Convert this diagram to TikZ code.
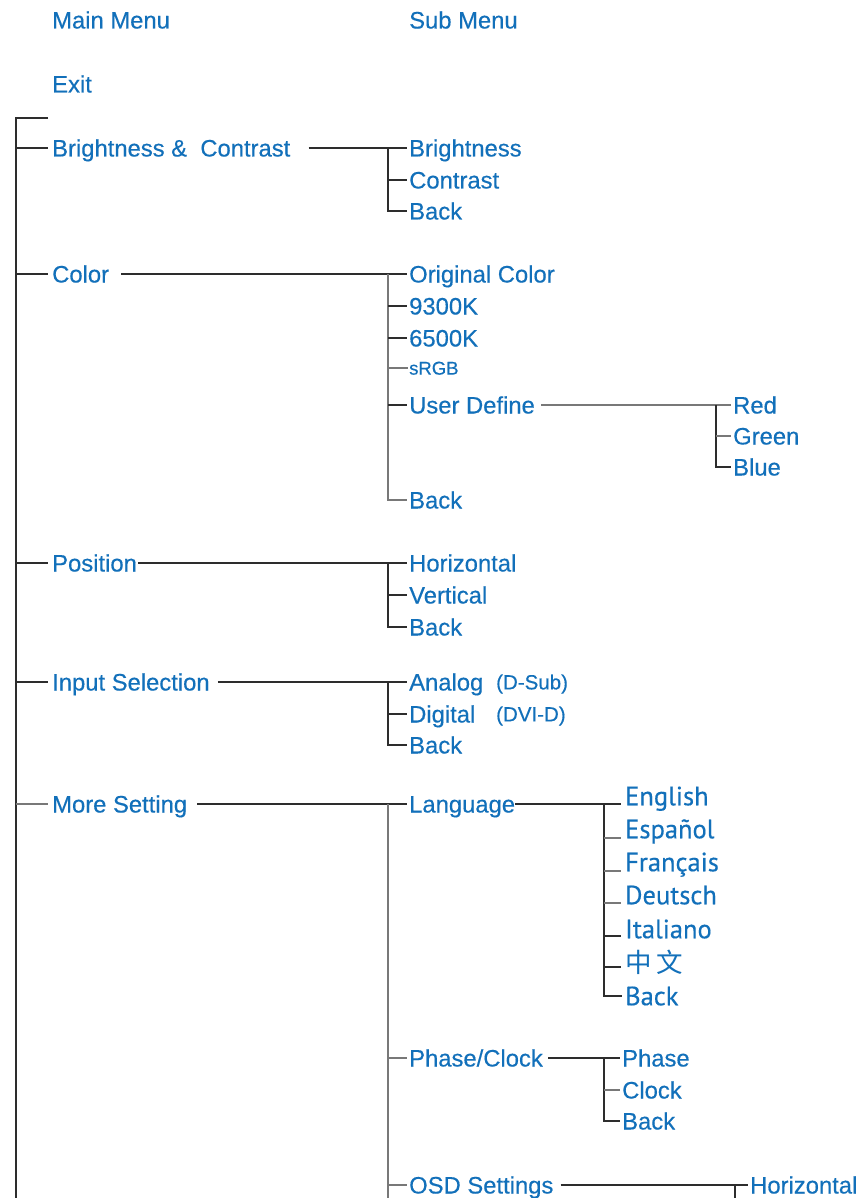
\documentclass[tikz,border=0pt]{standalone}
\usepackage{fontspec}
\setmainfont{Liberation Sans}
\newfontfamily\mfont{Liberation Sans}[FakeBold=0.35]
\newfontfamily\langfont{PT Sans}[FakeBold=0.35]
\newfontfamily\cjkfont{Noto Sans CJK SC}
\definecolor{txtblue}{RGB}{18,112,186}
\definecolor{lndark}{RGB}{45,45,45}
\definecolor{lngray}{RGB}{120,120,120}
\begin{document}
\begin{tikzpicture}[x=1pt,y=-1pt,
  lbl/.style={anchor=west, inner sep=0pt, text=txtblue, text height=17pt, text depth=0pt,
              font=\mfont\fontsize{23.8}{26}\selectfont},
  small/.style={lbl, text height=14.7pt, font=\mfont\fontsize{20.5}{22}\selectfont},
  tiny/.style={lbl, text height=13.2pt, font=\mfont\fontsize{18.5}{20}\selectfont},
  lang/.style={lbl, text height=18.5pt, font=\langfont\fontsize{26.5}{28}\selectfont},
  ln/.style={line width=1.9pt, draw=lndark},
  lg/.style={line width=1.9pt, draw=lngray}]
\useasboundingbox (0,0) rectangle (860,1198);
\fill[white] (0,0) rectangle (860,1198);

% headers
\node[lbl] (mainmenu) at (52,20) {Main Menu};
\node[lbl] (submenu) at (409,20) {Sub Menu};
\node[lbl] (exit) at (52,84) {Exit};

% main spine
\coordinate (spinetop) at (16,118);
\coordinate (spinebot) at (16,1199);
\coordinate (topstub) at (48,118);
\draw[ln] (topstub) -- (spinetop) -- (spinebot);

% Brightness & Contrast
\node[lbl] (bc) at (52,148) {Brightness \&\ \ Contrast};
\node[lbl] (bcb) at (409,148) {Brightness};
\node[lbl] (bcc) at (409,180) {Contrast};
\node[lbl] (bck) at (409,211) {Back};
\coordinate (bcj) at (388,148);
\draw[ln] (spinetop |- bc.west) -- ([xshift=-4pt]bc.west);
\draw[ln] ([xshift=18pt]bc.east) -- ([xshift=-2pt]bcb.west);
\draw[ln] (bcj) -- (bcj |- bck.west) -- ([xshift=-2pt]bck.west);
\draw[ln] (bcj |- bcc.west) -- ([xshift=-2pt]bcc.west);

% Color
\node[lbl] (col) at (52,274) {Color};
\node[lbl] (colo) at (409,274) {Original Color};
\node[lbl] (col93) at (409,306) {9300K};
\node[lbl] (col65) at (409,338) {6500K};
\node[tiny] (colsr) at (409,368) {sRGB};
\node[lbl] (colud) at (409,405) {User Define};
\node[lbl] (colbk) at (409,500) {Back};
\node[lbl] (red) at (733,405) {Red};
\node[lbl] (green) at (733,436) {Green};
\node[lbl] (blue) at (733,467) {Blue};
\coordinate (colj) at (388,274);
\coordinate (udj) at (716,405);
\draw[ln] (spinetop |- col.west) -- ([xshift=-4pt]col.west);
\draw[ln] ([xshift=12pt]col.east) -- ([xshift=-2pt]colo.west);
\draw[lg] (colj) -- (colj |- colbk.west) -- ([xshift=-2pt]colbk.west);
\draw[ln] (colj |- col93.west) -- ([xshift=-2pt]col93.west);
\draw[ln] (colj |- col65.west) -- ([xshift=-2pt]col65.west);
\draw[lg] (colj |- colsr.west) -- ([xshift=-1pt]colsr.west);
\draw[ln] (colj |- colud.west) -- ([xshift=-2pt]colud.west);
\draw[lg] ([xshift=6pt]colud.east) -- ([xshift=-2pt]red.west);
\draw[ln] (udj) -- (udj |- blue.west) -- ([xshift=-2pt]blue.west);
\draw[lg] (udj |- green.west) -- ([xshift=-2pt]green.west);

% Position
\node[lbl] (pos) at (52,563) {Position};
\node[lbl] (posh) at (409,563) {Horizontal};
\node[lbl] (posv) at (409,595) {Vertical};
\node[lbl] (posb) at (409,627) {Back};
\coordinate (posj) at (388,563);
\draw[ln] (spinetop |- pos.west) -- ([xshift=-4pt]pos.west);
\draw[ln] ([xshift=1pt]pos.east) -- ([xshift=-2pt]posh.west);
\draw[ln] (posj) -- (posj |- posb.west) -- ([xshift=-2pt]posb.west);
\draw[ln] (posj |- posv.west) -- ([xshift=-2pt]posv.west);

% Input Selection
\node[lbl] (ins) at (52,682) {Input Selection};
\node[lbl] (ana) at (409,682) {Analog};
\node[small] (dsub) at (496,682) {(D-Sub)};
\node[lbl] (dig) at (409,714) {Digital};
\node[small] (dvi) at (496,714) {(DVI-D)};
\node[lbl] (insb) at (409,745) {Back};
\coordinate (insj) at (388,682);
\draw[ln] (spinetop |- ins.west) -- ([xshift=-4pt]ins.west);
\draw[ln] ([xshift=8pt]ins.east) -- ([xshift=-2pt]ana.west);
\draw[ln] (insj) -- (insj |- insb.west) -- ([xshift=-2pt]insb.west);
\draw[ln] (insj |- dig.west) -- ([xshift=-2pt]dig.west);

% More Setting
\node[lbl] (ms) at (52,804) {More Setting};
\node[lbl] (lang) at (409,804) {Language};
\coordinate (msj) at (388,804);
\coordinate (msbot) at (388,1199);
\draw[lg] (spinetop |- ms.west) -- ([xshift=-4pt]ms.west);
\draw[ln] ([xshift=10pt]ms.east) -- ([xshift=-2pt]lang.west);
\draw[lg] (msj) -- (msbot);

% Language list
\node[lang] (en) at (625,796) {English};
\node[lang] (es) at (625,829) {Español};
\node[lang] (fr) at (625,862) {Français};
\node[lang] (de) at (625,895) {Deutsch};
\node[lang] (it) at (625,929) {Italiano};
\node[lang] (zh) at (625,963) {\cjkfont 中\,文};
\node[lang] (lgb) at (625,996) {Back};
\coordinate (lgj) at (604,804);
\draw[ln] (lang.east) -- ([xshift=-4pt]lgj -| en.west);
\draw[ln] (lgj) -- (lgj |- lgb.west) -- ([xshift=-3pt]lgb.west);
\draw[lg] ([yshift=-9pt]lgj |- es.west) -- ([xshift=-4pt,yshift=-9pt]es.west);
\draw[lg] ([yshift=-9pt]lgj |- fr.west) -- ([xshift=-4pt,yshift=-9pt]fr.west);
\draw[lg] ([yshift=-8pt]lgj |- de.west) -- ([xshift=-4pt,yshift=-8pt]de.west);
\draw[ln] ([yshift=-7pt]lgj |- it.west) -- ([xshift=-4pt,yshift=-7pt]it.west);
\draw[ln] ([yshift=-4pt]lgj |- zh.west) -- ([xshift=-4pt,yshift=-4pt]zh.west);

% Phase/Clock
\node[lbl] (pc) at (409,1058) {Phase/Clock};
\node[lbl] (pcp) at (622,1058) {Phase};
\node[lbl] (pcc) at (622,1090) {Clock};
\node[lbl] (pcb) at (622,1121) {Back};
\coordinate (pcj) at (604,1058);
\draw[lg] (msj |- pc.west) -- ([xshift=-2pt]pc.west);
\draw[ln] ([xshift=5pt]pc.east) -- ([xshift=-2pt]pcp.west);
\draw[ln] (pcj) -- (pcj |- pcb.west) -- ([xshift=-2pt]pcb.west);
\draw[lg] (pcj |- pcc.west) -- ([xshift=-2pt]pcc.west);

% OSD Settings
\node[lbl] (osd) at (409,1185) {OSD Settings};
\node[lbl] (osdh) at (750,1185) {Horizontal};
\coordinate (osdj) at (735,1185);
\coordinate (osdbot) at (735,1199);
\draw[lg] (msj |- osd.west) -- ([xshift=-2pt]osd.west);
\draw[ln] ([xshift=7pt]osd.east) -- ([xshift=-2pt]osdh.west);
\draw[ln] (osdj) -- (osdbot);
\end{tikzpicture}
\end{document}
